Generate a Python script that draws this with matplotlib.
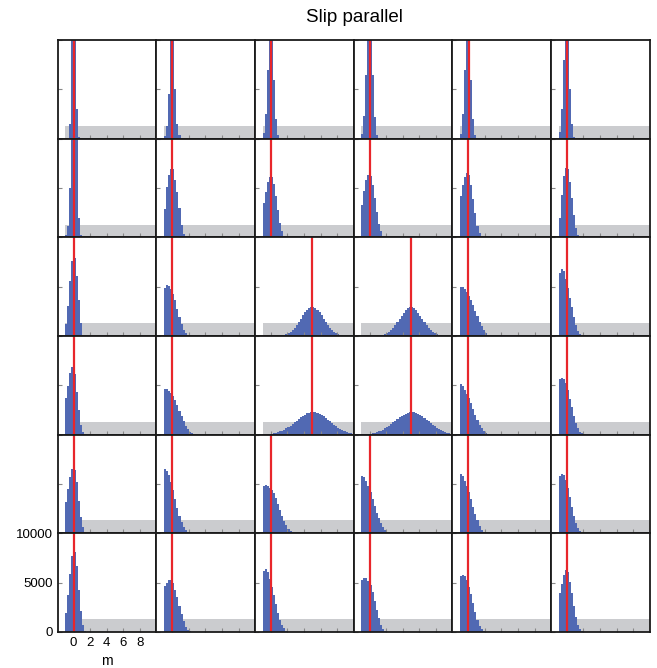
import matplotlib
matplotlib.use("Agg")
import matplotlib.pyplot as plt
import numpy as np

plt.rcParams["font.family"] = ["Liberation Sans", "DejaVu Sans"]

title = "Slip parallel"
x_label = "m"
x_ticks = [0, 2, 4, 6, 8]
y_ticks = [0, 5000, 10000]
x_range = [-1.9, 10.0]
y_range = [0, 10000]

# prior (grey band) and bin layout of the posterior histograms
prior_range = [-1.0, 10.0]
prior_count = 1300
bin_width = 0.25

# true values (red lines), one per panel
true_value = [
    [0.0, 0.0, 0.05, 0.0, 0.05, 0.0],
    [0.0, 0.0, 0.0, 0.0, 0.0, 0.0],
    [0.0, 0.0, 5.0, 5.0, 0.0, 0.0],
    [0.0, 0.0, 5.0, 5.0, 0.0, 0.0],
    [0.0, 0.0, 0.0, 0.0, 0.0, 0.0],
    [0.0, 0.0, 0.0, 0.0, 0.0, 0.0],
]

# left edge of the first bin of each histogram
hist_start = [
    [-1.0, -1.0, -1.0, -1.0, -1.0, -1.0],
    [-1.0, -1.0, -1.0, -1.0, -1.0, -1.0],
    [-1.0, -1.0, 0.75, 0.75, -1.0, -1.0],
    [-1.0, -1.0, -1.0, -1.0, -1.0, -1.0],
    [-1.0, -1.0, -1.0, -1.0, -1.0, -1.0],
    [-1.0, -1.0, -1.0, -1.0, -1.0, -1.0],
]

row0 = [
    [0, 100, 1500, 25000, 25000, 3000, 200],
    [300, 1300, 4500, 14000, 14000, 5000, 1500, 400, 50],
    [600, 2500, 7000, 13000, 13000, 6000, 2000, 400],
    [500, 2300, 6500, 13000, 13500, 6500, 2200, 400],
    [500, 2500, 7000, 14000, 13000, 6000, 2000, 400],
    [700, 3000, 8000, 14000, 13000, 5000, 1500, 200],
]
row1 = [
    [200, 1200, 5000, 13000, 16000, 10500, 2000, 200],
    [2900, 5100, 6300, 6900, 6900, 5800, 4600, 3000, 1300, 350, 60],
    [3500, 4600, 5600, 6100, 6100, 5400, 4200, 2800, 1500, 600, 150, 30],
    [3300, 4700, 5800, 6300, 6200, 5300, 4000, 2600, 1400, 600, 150, 30],
    [4200, 5300, 6100, 6500, 6300, 5300, 3900, 2500, 1200, 450, 100],
    [2000, 4300, 6200, 7000, 6900, 5600, 4000, 2300, 900, 250, 50],
]
row2 = [
    [1200, 3000, 5600, 7600, 7900, 6100, 3700, 1300, 150],
    [4900, 5150, 5100, 4800, 4300, 3600, 2700, 1900, 1200, 650, 300, 100],
    [20, 40, 70, 110, 180, 280, 410, 590, 820, 1100, 1400, 1750, 2080, 2400,
     2680, 2870, 2980, 2970, 2860, 2660, 2400, 2080, 1760, 1430, 1120, 850,
     610, 420, 280, 180, 110, 65, 35, 20],
    [15, 35, 65, 105, 175, 270, 400, 580, 810, 1080, 1390, 1730, 2060, 2380,
     2650, 2850, 2950, 2960, 2850, 2650, 2380, 2060, 1730, 1400, 1090, 820,
     590, 410, 270, 175, 105, 60, 35, 15],
    [4950, 5000, 4800, 4500, 4100, 3650, 3100, 2550, 2000, 1450, 1000, 600, 300, 120, 40],
    [6400, 6750, 6550, 5800, 4900, 3900, 2900, 1900, 1100, 500, 180, 50],
]
row3 = [
    [3700, 4900, 6200, 6900, 6100, 4300, 2500, 1000, 250, 40],
    [4650, 4600, 4400, 4250, 3950, 3500, 3000, 2400, 1850, 1350, 900, 550, 300, 150, 60],
    [30, 45, 60, 85, 110, 150, 200, 260, 330, 420, 520, 640, 770, 920, 1080,
     1250, 1420, 1590, 1750, 1900, 2040, 2150, 2230, 2280, 2300, 2270, 2210,
     2120, 2000, 1860, 1700, 1530, 1350, 1180, 1010, 850, 700, 570, 450, 350,
     260, 190, 130, 90],
    [25, 40, 60, 80, 110, 145, 195, 255, 330, 415, 515, 635, 765, 915, 1075,
     1245, 1415, 1585, 1745, 1895, 2030, 2140, 2220, 2270, 2290, 2265, 2205,
     2115, 1995, 1855, 1695, 1525, 1345, 1170, 1000, 840, 690, 560, 440, 340,
     250, 180, 120, 80],
    [5100, 4900, 4500, 4100, 3700, 3200, 2600, 2000, 1450, 1000, 650, 350, 170, 60],
    [5600, 5700, 5600, 5200, 4500, 3600, 2800, 1900, 1200, 650, 300, 120, 40],
]
row4 = [
    [3200, 4500, 5700, 6500, 6400, 5200, 3300, 1700, 600, 100],
    [6550, 6350, 5900, 5200, 4400, 3500, 2600, 1800, 1150, 650, 300, 110, 30],
    [4800, 4850, 4800, 4600, 4350, 4050, 3550, 2950, 2350, 1800, 1250, 800, 450, 220, 80],
    [5850, 5750, 5350, 4800, 4200, 3500, 2750, 2100, 1500, 1000, 600, 300, 120, 40],
    [6000, 5800, 5350, 4800, 4150, 3450, 2700, 1950, 1300, 750, 380, 150, 40],
    [5850, 6050, 5950, 5400, 4600, 3650, 2700, 1800, 1050, 500, 200, 60],
]
row5 = [
    [1900, 3700, 5900, 7700, 8100, 6700, 4300, 2100, 700, 120],
    [4700, 5000, 5250, 5300, 5000, 4300, 3500, 2650, 1800, 1100, 550, 200, 50],
    [6200, 6350, 6100, 5400, 4600, 3700, 2800, 1950, 1250, 700, 350, 130, 40],
    [5250, 5450, 5450, 5200, 4750, 4000, 3100, 2200, 1400, 750, 330, 110, 30],
    [5650, 5800, 5700, 5300, 4600, 3800, 2900, 2000, 1250, 650, 280, 90],
    [3900, 4900, 5750, 6250, 6100, 5100, 3900, 2600, 1500, 700, 250, 60],
]
counts = [row0, row1, row2, row3, row4, row5]

n_rows, n_cols = len(counts), len(counts[0])
fig, axes = plt.subplots(n_rows, n_cols, figsize=(6.57, 6.68), dpi=100)
fig.subplots_adjust(left=0.088, right=0.989, top=0.940, bottom=0.054,
                    wspace=0, hspace=0)

for i in range(n_rows):
    for j in range(n_cols):
        ax = axes[i, j]
        ax.stairs([prior_count], prior_range, fill=True, color="#cbcccf", lw=0)
        h = counts[i][j]
        edges = hist_start[i][j] + bin_width * np.arange(len(h) + 1)
        ax.stairs(h, edges, fill=True, color="#5169b3", lw=0)
        ax.axvline(true_value[i][j], color="#e8262b", lw=1.6)
        ax.set_xlim(x_range)
        ax.set_ylim(y_range)
        ax.set_xticks(x_ticks)
        ax.set_yticks(y_ticks)
        corner = (i == n_rows - 1 and j == 0)
        ax.tick_params(direction="in", length=3, width=0.8, color="#888888",
                       labelsize=9.5, labelbottom=corner, labelleft=corner)
        for s in ax.spines.values():
            s.set_linewidth(1.3)
            s.set_color("#1a1a1a")
        if corner:
            ax.set_xlabel(x_label, fontsize=10)

fig.text(0.539, 0.974, title, ha="center", va="center", fontsize=13.5)
fig.savefig("out.png", dpi=100)
